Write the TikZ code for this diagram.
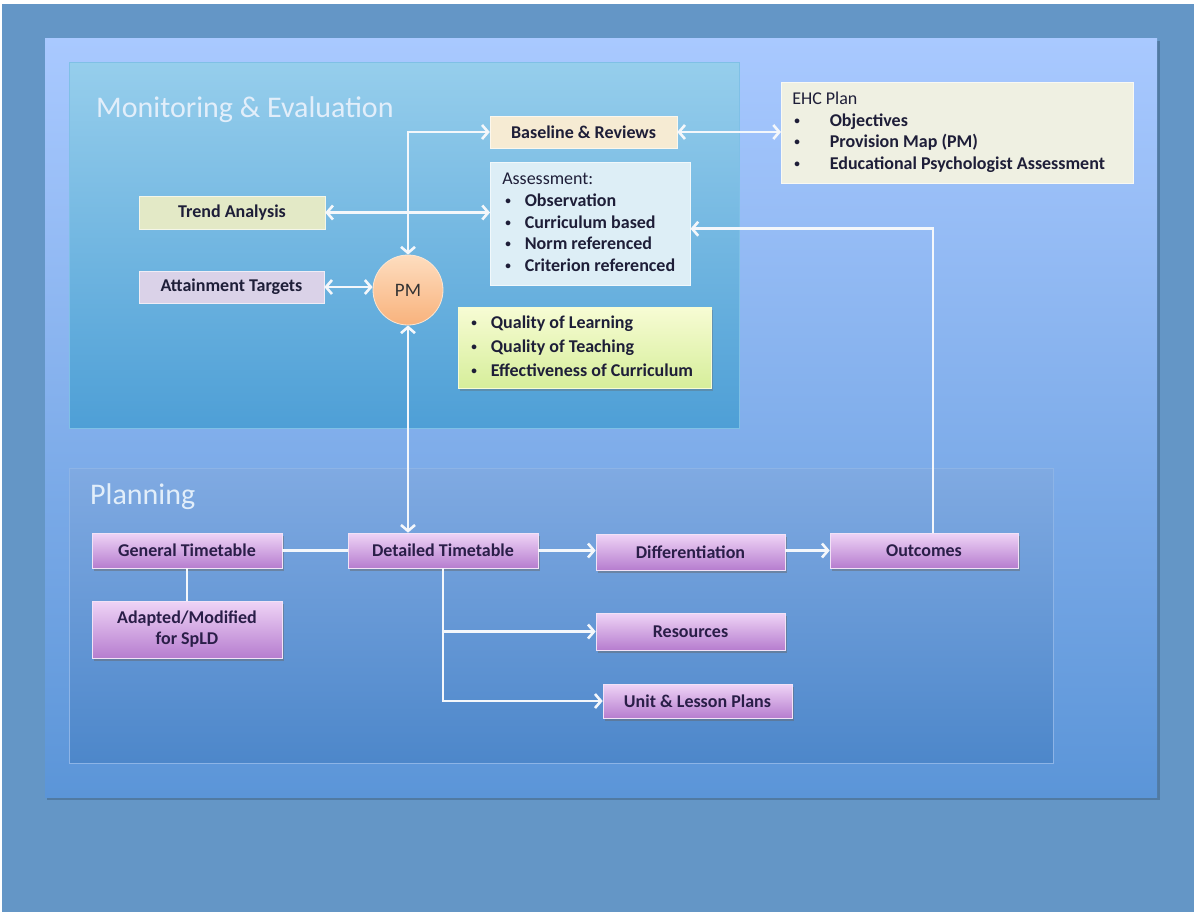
\documentclass[tikz,border=0pt]{standalone}
\usepackage{fontspec}
\setmainfont{Carlito}
\usetikzlibrary{arrows.meta,shadows}
\definecolor{outerbg}{HTML}{6496C6}
\definecolor{innerTop}{HTML}{A9C9FF}
\definecolor{innerBot}{HTML}{5B95D8}
\definecolor{monTop}{HTML}{96CEEC}
\definecolor{monBot}{HTML}{4E9FD6}
\definecolor{monEdge}{HTML}{7FC0E6}
\definecolor{planTop}{HTML}{80AAE2}
\definecolor{planBot}{HTML}{4D87CA}
\definecolor{planEdge}{HTML}{8DB4E6}
\definecolor{txt}{HTML}{1E1E38}
\definecolor{ptxt}{HTML}{2A1E48}
\definecolor{baseFill}{HTML}{F6EBD3}
\definecolor{assessFill}{HTML}{DDEEF6}
\definecolor{ehcFill}{HTML}{EFF0E2}
\definecolor{trendFill}{HTML}{E3E9C6}
\definecolor{attainFill}{HTML}{DAD2E8}
\definecolor{qTop}{HTML}{F7FCD4}
\definecolor{qBot}{HTML}{D6EE9A}
\definecolor{pTop}{HTML}{EFD4F6}
\definecolor{pBot}{HTML}{B67DCF}
\definecolor{pEdge}{HTML}{F2E2F7}
\definecolor{pmTop}{HTML}{FEDDBF}
\definecolor{pmBot}{HTML}{F8B27C}
\definecolor{arrw}{HTML}{F4F7FB}
\definecolor{titleCol}{HTML}{E2EEFA}
\newcommand{\smallbul}{\raisebox{0.22ex}{\scalebox{0.62}{\textbullet}}}
\begin{document}
\begin{tikzpicture}[x=1pt,y=-1pt,
  lbl/.style={font=\bfseries\fontsize{18}{21}\selectfont, text=txt, inner sep=0pt, align=center},
  flatbox/.style={lbl, draw=white!60!#1, line width=0.5pt, fill=#1},
  pbox/.style={lbl, text=ptxt, top color=pTop, bottom color=pBot, draw=pEdge, line width=0.6pt,
     drop shadow={shadow xshift=2pt, shadow yshift=-3pt, opacity=0.45, fill=black!60}},
  conn/.style={draw=arrw, line width=2.6pt},
  tip/.tip={Straight Barb[length=6pt,width=14pt]},
  title/.style={font=\fontsize{30}{35}\selectfont, text=titleCol, inner sep=0pt, anchor=west}
]
\useasboundingbox (0,0) rectangle (1194,913);
\fill[white] (0,0) rectangle (1194,913);
\fill[outerbg] (2,4) rectangle (1194,912);
% inner panel
\fill[black, opacity=0.18] (47,41) rectangle (1160,800);
\shade[top color=innerTop, bottom color=innerBot] (45,38) rectangle (1157,797);
% monitoring panel
\shade[top color=monTop, bottom color=monBot, draw=monEdge, line width=0.8pt] (69,62) rectangle (739,428);
\node[title] (montitle) at (96,110) {Monitoring \& Evaluation};
% planning panel
\shade[top color=planTop, bottom color=planBot, draw=planEdge, line width=0.8pt] (69,468) rectangle (1053,763);
\node[title] (plantitle) at (90,497) {Planning};

% monitoring nodes
\node[flatbox=baseFill, minimum width=187, minimum height=32] (base) at (583.5,132) {Baseline \& Reviews};
\node[flatbox=assessFill, minimum width=200, minimum height=123, text width=176, inner xsep=12, align=left, anchor=north west] (assess) at (490,162)
  {\spaceskip=0pt\xspaceskip=0pt\fontsize{18}{21.6}\selectfont\begin{tabular}{@{}l@{\hspace{14pt}}l@{}}
   \multicolumn{2}{@{}l@{}}{\mdseries Assessment:}\\
   \hspace{3pt}\smallbul & Observation\\
   \hspace{3pt}\smallbul & Curriculum based\\
   \hspace{3pt}\smallbul & Norm referenced\\
   \hspace{3pt}\smallbul & Criterion referenced
   \end{tabular}};
\node[flatbox=ehcFill, minimum width=352, minimum height=101, text width=330, inner xsep=11, align=left, anchor=north west] (ehc) at (781,82)
  {\spaceskip=0pt\xspaceskip=0pt\fontsize{18}{21.6}\selectfont\begin{tabular}{@{}l@{\hspace{30pt}}l@{}}
   \multicolumn{2}{@{}l@{}}{\mdseries EHC Plan}\\
   \hspace{2pt}\smallbul & Objectives\\
   \hspace{2pt}\smallbul & Provision Map (PM)\\
   \hspace{2pt}\smallbul & Educational Psychologist Assessment
   \end{tabular}};
\node[flatbox=trendFill, minimum width=186, minimum height=33] (trend) at (232,212.5) {Trend Analysis};
\node[flatbox=attainFill, minimum width=185, minimum height=32] (attain) at (231.5,287) {Attainment Targets};
\node[circle, minimum size=70, inner sep=0pt, top color=pmTop, bottom color=pmBot, draw=pmTop!70!white, line width=0.8pt,
      font=\fontsize{19}{21}\selectfont, text=black!80] (pm) at (408,290) {PM};
\node[lbl, top color=qTop, bottom color=qBot, draw=qTop, line width=0.6pt, minimum width=253, minimum height=81,
      text width=227, inner xsep=13, align=left, anchor=north west,
      drop shadow={shadow xshift=2pt, shadow yshift=-3pt, opacity=0.35, fill=black!60}] (quality) at (458,307)
  {\spaceskip=0pt\xspaceskip=0pt\fontsize{18}{24}\selectfont\begin{tabular}{@{}l@{\hspace{14pt}}l@{}}
   \smallbul & Quality of Learning\\
   \smallbul & Quality of Teaching\\
   \smallbul & Effectiveness of Curriculum
   \end{tabular}};

% planning nodes
\node[pbox, minimum width=190, minimum height=35] (gen) at (187,550.5) {General Timetable};
\node[pbox, minimum width=190, minimum height=57] (adapt) at (187,629.5) {Adapted/Modified\\for SpLD};
\node[pbox, minimum width=190, minimum height=35] (det) at (443,550.5) {Detailed Timetable};
\node[pbox, minimum width=189, minimum height=36] (diff) at (690.5,552) {Differentiation};
\node[pbox, minimum width=188, minimum height=35] (out) at (924,550.5) {Outcomes};
\node[pbox, minimum width=189, minimum height=37] (res) at (690.5,631.5) {Resources};
\node[pbox, minimum width=189, minimum height=34] (unit) at (697.5,701) {Unit \& Lesson Plans};

\coordinate (outtop) at ([xshift=9pt]out.north);
\coordinate (assin) at ([yshift=-5pt]assess.east);
\coordinate (detin) at (pm.south |- det.north);

% connectors
\draw[conn, {tip}-{tip}] (pm.north) |- (base.west);
\draw[conn, {tip}-{tip}] (base.east) -- (base.east -| ehc.west);
\draw[conn, {tip}-{tip}] (trend.east) -- (trend.east -| assess.west);
\draw[conn, {tip}-{tip}] (attain.east) -- (attain.east -| pm.west);
\draw[conn, {tip}-{tip}] (pm.south) -- (detin);
\draw[conn] (gen.east) -- (gen.east -| det.west);
\draw[conn] (gen.south) -- (adapt.north);
\draw[conn, -{tip}] (det.east) -- (det.east -| diff.west);
\draw[conn, -{tip}] (diff.east |- det.east) -- (det.east -| out.west);
\draw[conn, -{tip}] (outtop) |- (assin);
\draw[conn, -{tip}] (det.south) |- (unit.west);
\draw[conn, -{tip}] (det.south |- res.west) -- (res.west);
\end{tikzpicture}
\end{document}
